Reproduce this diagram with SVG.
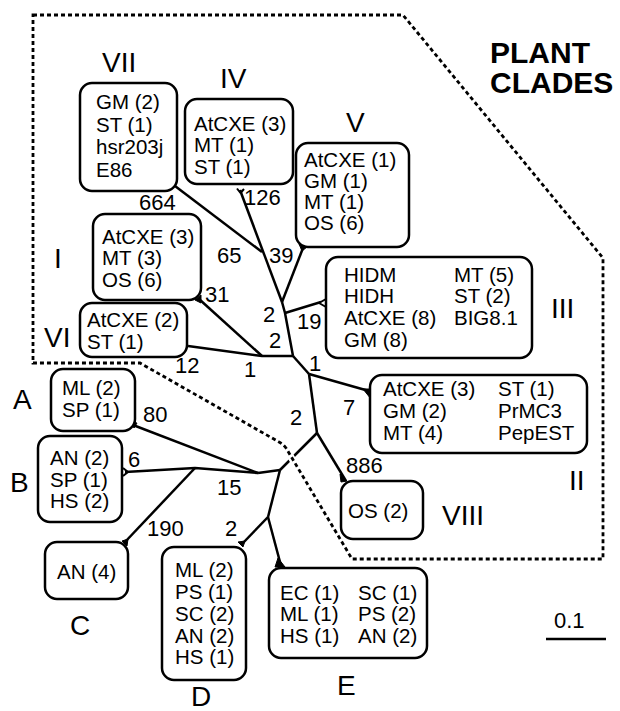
<svg xmlns="http://www.w3.org/2000/svg" width="620" height="711" viewBox="0 0 620 711">
<style>
text{font-family:"Liberation Sans",Arial,sans-serif;fill:#000}
.t{font-size:20.5px}
.bl{font-size:22px}
.num{font-size:28px}
.title{font-size:30px;font-weight:bold}
.box{fill:#fff;stroke:#000;stroke-width:2.5}
.br{fill:none;stroke:#000;stroke-width:2.5;stroke-linejoin:round}
.tk{fill:#000;stroke:#000;stroke-width:1}
.fk{fill:none;stroke:#000;stroke-width:2}
.clade{fill:none;stroke:#000;stroke-width:2.8;stroke-dasharray:4 3}
.gap{fill:none;stroke:#fff;stroke-width:7}
</style>
<rect width="620" height="711" fill="#fff"/>
<g id="title"><text class="title" x="490" y="63">PLANT</text><text class="title" x="490" y="93">CLADES</text></g>
<g id="connectors">
<path class="br" d="M175,186 L262,252"/>
<path class="br" d="M240,190 L282,302"/>
<path class="br" d="M303,248 L282,302"/>
<path class="br" d="M282,302 L285,313 L293,356"/>
<path class="br" d="M285,313 L321,302"/>
<path class="br" d="M199,299 L262,356"/>
<path class="br" d="M188,346 L262,356 L293,356"/>
<path class="br" d="M293,356 L309,374"/>
<path class="br" d="M309,374 L369,391"/>
<path class="br" d="M309,374 L317,433"/>
<path class="br" d="M317,433 L346,481"/>
<path class="br" d="M317,433 L280,470"/>
<path class="br" d="M280,470 L258,473"/>
<path class="br" d="M133,425 L258,473"/>
<path class="br" d="M125,472 L195,468 L258,473"/>
<path class="br" d="M195,468 L125,542"/>
<path class="br" d="M280,470 L268,517"/>
<path class="br" d="M268,517 L243,543"/>
<path class="br" d="M268,517 L280,562"/>
<path class="fk" d="M240.5,193 L237,188.5 M240.5,193 L244,189"/>
<polygon class="tk" points="299,244 307,247 302,251"/>
<polygon class="tk" points="195,300 201,295 201,303"/>
<path class="fk" d="M319,303 L326,299 M319,303 L326,307"/>
<polygon class="tk" points="363,389 371,389 371,399"/>
<polygon class="tk" points="340,474 347,481 341,482"/>
<polygon class="tk" points="131,422 137,423 134,428"/>
<path class="fk" d="M128,472 L123,468 M128,472 L123,476"/>
<polygon class="tk" points="122,541 128,539 127,546"/>
<polygon class="tk" points="238,542 245,541 243,547"/>
<polygon class="tk" points="278,558 275,567 285,567"/>
<text class="bl" x="139" y="210">664</text>
<text class="bl" x="244" y="205">126</text>
<text class="bl" x="217" y="263">65</text>
<text class="bl" x="269" y="263">39</text>
<text class="bl" x="205" y="302">31</text>
<text class="bl" x="263" y="322">2</text>
<text class="bl" x="269" y="348">2</text>
<text class="bl" x="297" y="329">19</text>
<text class="bl" x="175" y="373">12</text>
<text class="bl" x="244" y="377">1</text>
<text class="bl" x="309" y="371">1</text>
<text class="bl" x="343" y="415">7</text>
<text class="bl" x="346" y="473">886</text>
<text class="bl" x="290" y="425">2</text>
<text class="bl" x="143" y="422">80</text>
<text class="bl" x="128" y="467">6</text>
<text class="bl" x="217" y="495">15</text>
<text class="bl" x="147" y="536">190</text>
<text class="bl" x="225" y="536">2</text>
</g>
<g id="plant-clades-outline">
<path class="gap" d="M276,440 L283,444 L294,462"/>
<path class="clade" d="M33,15 L403,15 L603,258 L603,559 L352,559 L286,448 Q283,444 279,442 L140,363 L33,363 Z"/>
</g>
<g id="clade-VII"><rect class="box" x="80" y="83" width="97" height="108" rx="12"/>
<text class="t" x="96" y="109">GM (2)</text><text class="t" x="96" y="132">ST (1)</text><text class="t" x="96" y="154">hsr203j</text><text class="t" x="96" y="177">E86</text>
<text class="num" x="102" y="72">VII</text></g>
<g id="clade-IV"><rect class="box" x="185" y="99" width="108" height="85" rx="12"/>
<text class="t" x="194" y="131">AtCXE (3)</text><text class="t" x="194" y="152">MT (1)</text><text class="t" x="194" y="174">ST (1)</text>
<text class="num" x="220" y="88">IV</text></g>
<g id="clade-V"><rect class="box" x="296" y="143" width="113" height="104" rx="12"/>
<text class="t" x="304" y="167">AtCXE (1)</text><text class="t" x="304" y="188">GM (1)</text><text class="t" x="304" y="209">MT (1)</text><text class="t" x="304" y="230">OS (6)</text>
<text class="num" x="346" y="132">V</text></g>
<g id="clade-I"><rect class="box" x="93" y="214" width="108" height="86" rx="12"/>
<text class="t" x="102" y="244">AtCXE (3)</text><text class="t" x="102" y="265">MT (3)</text><text class="t" x="102" y="287">OS (6)</text>
<text class="num" x="54" y="268">I</text></g>
<g id="clade-VI"><rect class="box" x="80" y="303" width="107" height="54" rx="12"/>
<text class="t" x="87" y="327">AtCXE (2)</text><text class="t" x="87" y="349">ST (1)</text>
<text class="num" x="44" y="347">VI</text></g>
<g id="clade-III"><rect class="box" x="326" y="257" width="206" height="101" rx="12"/>
<text class="t" x="344" y="282">HIDM</text><text class="t" x="344" y="303">HIDH</text><text class="t" x="344" y="325">AtCXE (8)</text><text class="t" x="344" y="347">GM (8)</text>
<text class="t" x="454" y="282">MT (5)</text><text class="t" x="454" y="303">ST (2)</text><text class="t" x="454" y="325">BIG8.1</text>
<text class="num" x="551" y="318">III</text></g>
<g id="clade-II"><rect class="box" x="370" y="375" width="217" height="78" rx="12"/>
<text class="t" x="383" y="396">AtCXE (3)</text><text class="t" x="383" y="418">GM (2)</text><text class="t" x="383" y="440">MT (4)</text>
<text class="t" x="498" y="396">ST (1)</text><text class="t" x="498" y="418">PrMC3</text><text class="t" x="498" y="440">PepEST</text>
<text class="num" x="569" y="490">II</text></g>
<g id="clade-VIII"><rect class="box" x="341" y="481" width="82" height="58" rx="12"/>
<text class="t" x="348" y="518">OS (2)</text>
<text class="num" x="442" y="525">VIII</text></g>
<g id="group-A"><rect class="box" x="51" y="369" width="84" height="62" rx="12"/>
<text class="t" x="62" y="395">ML (2)</text><text class="t" x="62" y="417">SP (1)</text>
<text class="num" x="13" y="409">A</text></g>
<g id="group-B"><rect class="box" x="38" y="436" width="84" height="86" rx="12"/>
<text class="t" x="50" y="465">AN (2)</text><text class="t" x="50" y="487">SP (1)</text><text class="t" x="50" y="508">HS (2)</text>
<text class="num" x="10" y="492">B</text></g>
<g id="group-C"><rect class="box" x="45" y="542" width="83" height="57" rx="12"/>
<text class="t" x="57" y="579">AN (4)</text>
<text class="num" x="70" y="635">C</text></g>
<g id="group-D"><rect class="box" x="162" y="547" width="84" height="133" rx="12"/>
<text class="t" x="175" y="577">ML (2)</text><text class="t" x="175" y="599">PS (1)</text><text class="t" x="175" y="621">SC (2)</text><text class="t" x="175" y="643">AN (2)</text><text class="t" x="175" y="664">HS (1)</text>
<text class="num" x="191" y="706">D</text></g>
<g id="group-E"><rect class="box" x="269" y="568" width="158" height="90" rx="12"/>
<text class="t" x="280" y="600">EC (1)</text><text class="t" x="280" y="621">ML (1)</text><text class="t" x="280" y="643">HS (1)</text>
<text class="t" x="358" y="600">SC (1)</text><text class="t" x="358" y="621">PS (2)</text><text class="t" x="358" y="643">AN (2)</text>
<text class="num" x="337" y="695">E</text></g>
<g id="scale"><text class="bl" x="554" y="628">0.1</text><path class="br" d="M546,639 L606,639"/></g>
</svg>
